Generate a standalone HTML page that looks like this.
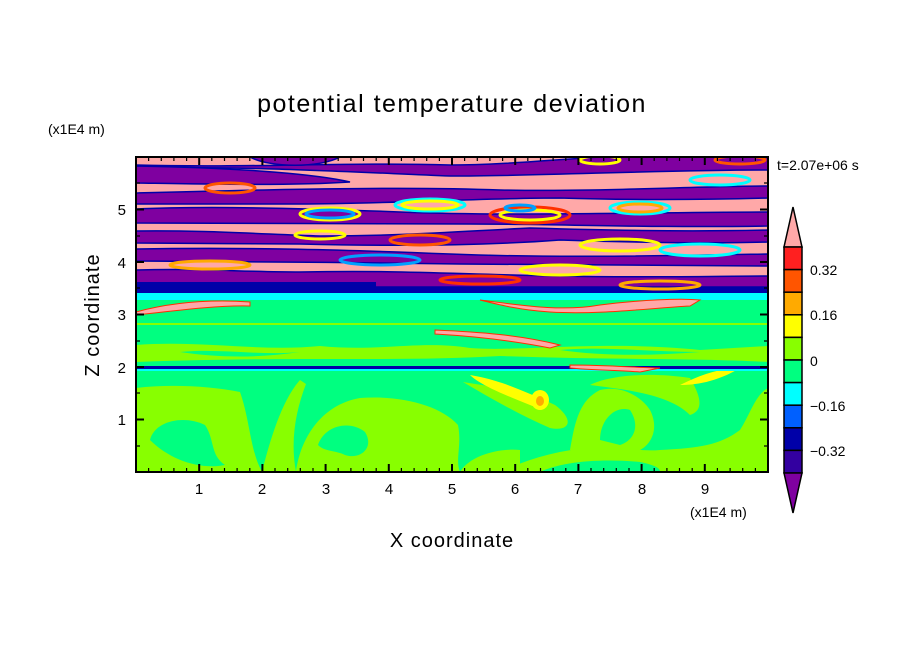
<!DOCTYPE html>
<html><head><style>body{margin:0;background:#fff}svg{display:block}text{font-family:"Liberation Sans",sans-serif;fill:#000}</style></head>
<body>
<svg width="904" height="654" viewBox="0 0 904 654" xmlns="http://www.w3.org/2000/svg">
<defs><clipPath id="c"><rect x="136" y="157" width="632" height="315"/></clipPath></defs>
<g clip-path="url(#c)">
<rect x="136" y="157" width="632" height="315" fill="#00ff80"/>
<!-- lower lime regions -->
<g fill="#88ff00">
<path d="M136,388 C170,384 210,386 240,392 C250,420 250,450 262,472 L136,472Z"/>
<path d="M262,472 C270,440 282,400 300,380 L306,384 C296,410 290,440 296,472Z"/>
<path d="M296,472 C300,440 320,405 360,398 C400,395 440,405 458,425 C462,445 455,460 460,472Z"/>
<path d="M460,472 C470,455 500,448 520,450 L520,472Z"/>
<path d="M500,472 C530,458 560,450 590,448 C620,446 640,452 660,450 C700,448 720,445 740,430 C750,415 755,395 768,388 L768,472Z"/>
<path d="M570,450 C575,420 580,400 600,390 C620,385 640,395 650,410 C660,430 650,445 640,450Z"/>
<path d="M463,382 C500,388 530,392 555,405 C575,420 570,432 550,428 C520,415 490,398 463,382Z"/>
<path d="M590,385 C610,375 650,372 690,378 C700,395 705,410 690,415 C670,395 630,390 590,385Z"/>
</g>
<g fill="#00ff80">
<path d="M150,440 C155,420 185,415 205,425 C215,440 210,455 225,465 C200,470 170,460 150,440Z"/>
<path d="M318,445 C325,425 350,420 365,432 C375,448 360,460 345,455 C335,450 325,452 318,445Z"/>
<path d="M600,440 C600,420 615,405 630,410 C640,425 635,440 620,445Z"/>
<path d="M540,472 C560,462 600,458 640,462 C660,466 660,470 660,472Z"/>
</g>
<path d="M470,375 C500,380 520,390 540,398 C550,405 540,410 530,405 C505,395 480,385 470,375Z" fill="#ffff00"/>
<ellipse cx="540" cy="400" rx="9" ry="10" fill="#ffff00"/>
<ellipse cx="540" cy="401" rx="4" ry="5" fill="#ffaa00"/>
<path d="M680,385 C700,375 720,368 740,368 C720,380 700,385 680,385Z" fill="#ffff00"/>
<!-- middle band speckle -->
<path d="M136,345 C200,340 260,352 320,346 C380,352 420,340 470,348 C520,352 600,340 700,350 L768,346 L768,362 C700,358 600,360 500,356 C400,362 300,356 136,362Z" fill="#88ff00"/>
<path d="M180,352 C220,348 260,356 300,352 C260,358 220,358 180,352Z" fill="#00ff80"/>
<path d="M560,350 C600,346 650,352 700,352 C650,356 600,356 560,350Z" fill="#00ff80"/>
<rect x="136" y="366" width="632" height="3" fill="#0000a8"/>
<rect x="136" y="369" width="632" height="2" fill="#00ffff"/>
<rect x="136" y="323" width="632" height="2" fill="#88ff00"/>
<path d="M435,330 C480,332 520,335 560,345 L550,348 C510,340 470,336 435,334Z" fill="#ffa8a8" stroke="#ff3000"/>
<path d="M570,365 C610,365 640,368 660,368 L640,372 C610,370 590,370 570,368Z" fill="#ffa8a8" stroke="#ff3000"/>
<rect x="136" y="284" width="632" height="12" fill="#0000a8"/>
<rect x="136" y="293" width="632" height="7" fill="#00ffff"/>
<rect x="136" y="300" width="632" height="4" fill="#00ff80"/>
<path d="M136,312 C180,300 220,300 250,302 L250,306 C220,305 180,310 136,315Z" fill="#ffa8a8" stroke="#ff3000"/>
<path d="M480,300 C520,305 560,312 600,305 C640,300 680,298 700,300 L690,306 C650,308 600,315 550,312 C520,310 500,305 480,300Z" fill="#ffa8a8" stroke="#ff3000"/>
<!-- stripes -->
<rect x="136" y="157" width="632" height="128" fill="#ffa8a8"/>
<g fill="#7f00a0" stroke="#0000a8" stroke-width="1.5">
<path d="M136,168 C250,166 350,172 450,176 C550,176 650,170 768,170 L768,157 L600,157 C550,160 500,165 450,165 C350,162 250,168 136,165Z"/>
<path d="M250,157 C270,168 320,168 340,157Z"/>
<path d="M136,166 C250,168 320,175 350,182 C290,186 200,184 136,183Z"/>
<path d="M136,193 C250,190 400,186 500,190 C600,192 700,186 768,186 L768,198 C700,200 620,200 560,198 C480,198 380,204 300,204 C220,204 180,204 136,204Z"/>
<path d="M136,209 C200,206 300,208 400,212 C500,216 600,213 768,212 L768,226 C650,228 560,224 470,224 C380,224 260,224 136,223Z"/>
<path d="M136,231 C200,230 260,234 320,236 C400,236 450,232 530,228 C600,230 680,232 768,230 L768,242 C700,244 620,242 560,240 C480,246 380,246 300,244 C250,244 180,243 136,243Z"/>
<path d="M136,249 C250,247 350,250 450,254 C550,258 650,256 768,254 L768,266 C650,266 540,264 460,264 C350,262 250,262 136,261Z"/>
<path d="M136,270 C200,268 240,272 300,272 C400,270 450,274 560,276 C650,278 720,276 768,276 L768,287 L136,287Z"/>
</g>
<rect x="136" y="282" width="240" height="10" fill="#0000a8"/>
<g fill="none" stroke-width="3">
<ellipse cx="230" cy="188" rx="25" ry="5" stroke="#ff5500"/>
<ellipse cx="330" cy="214" rx="30" ry="6" stroke="#ffff00"/>
<ellipse cx="330" cy="214" rx="24" ry="4" stroke="#00a0ff"/>
<ellipse cx="430" cy="205" rx="35" ry="6" stroke="#00ffff"/>
<ellipse cx="430" cy="205" rx="28" ry="4" stroke="#ffff00"/>
<ellipse cx="530" cy="215" rx="40" ry="8" stroke="#ff3000"/>
<ellipse cx="530" cy="215" rx="30" ry="5" stroke="#ffff00"/>
<ellipse cx="520" cy="208" rx="15" ry="3" stroke="#00a0ff"/>
<ellipse cx="640" cy="208" rx="30" ry="6" stroke="#00ffff"/>
<ellipse cx="640" cy="208" rx="22" ry="4" stroke="#ffaa00"/>
<ellipse cx="720" cy="180" rx="30" ry="5" stroke="#00ffff"/>
<ellipse cx="740" cy="160" rx="25" ry="4" stroke="#ff5500"/>
<ellipse cx="320" cy="235" rx="25" ry="4" stroke="#ffff00"/>
<ellipse cx="420" cy="240" rx="30" ry="5" stroke="#ff5500"/>
<ellipse cx="620" cy="245" rx="40" ry="6" stroke="#ffff00"/>
<ellipse cx="700" cy="250" rx="40" ry="6" stroke="#00ffff"/>
<ellipse cx="210" cy="265" rx="40" ry="4" stroke="#ffaa00"/>
<ellipse cx="380" cy="260" rx="40" ry="5" stroke="#00a0ff"/>
<ellipse cx="560" cy="270" rx="40" ry="5" stroke="#ffff00"/>
<ellipse cx="480" cy="280" rx="40" ry="4" stroke="#ff3000"/>
<ellipse cx="660" cy="285" rx="40" ry="4" stroke="#ffaa00"/>
<ellipse cx="600" cy="160" rx="20" ry="4" stroke="#ffff00"/>
</g>
</g>
<rect x="136" y="157" width="632" height="315" fill="none" stroke="#000" stroke-width="2"/>
<g stroke="#000" stroke-width="1.2">
<path d="M148.6,472v-4M161.3,472v-4M173.9,472v-4M186.6,472v-4M211.8,472v-4M224.5,472v-4M237.1,472v-4M249.8,472v-4M275,472v-4M287.7,472v-4M300.3,472v-4M313,472v-4M338.2,472v-4M350.9,472v-4M363.5,472v-4M376.2,472v-4M401.4,472v-4M414.1,472v-4M426.7,472v-4M439.4,472v-4M464.6,472v-4M477.3,472v-4M489.9,472v-4M502.6,472v-4M527.8,472v-4M540.5,472v-4M553.1,472v-4M565.8,472v-4M591,472v-4M603.7,472v-4M616.3,472v-4M629,472v-4M654.2,472v-4M666.9,472v-4M679.5,472v-4M692.2,472v-4M717.4,472v-4M730.1,472v-4M742.7,472v-4M755.4,472v-4"/>
<path d="M148.6,157v4M161.3,157v4M173.9,157v4M186.6,157v4M211.8,157v4M224.5,157v4M237.1,157v4M249.8,157v4M275,157v4M287.7,157v4M300.3,157v4M313,157v4M338.2,157v4M350.9,157v4M363.5,157v4M376.2,157v4M401.4,157v4M414.1,157v4M426.7,157v4M439.4,157v4M464.6,157v4M477.3,157v4M489.9,157v4M502.6,157v4M527.8,157v4M540.5,157v4M553.1,157v4M565.8,157v4M591,157v4M603.7,157v4M616.3,157v4M629,157v4M654.2,157v4M666.9,157v4M679.5,157v4M692.2,157v4M717.4,157v4M730.1,157v4M742.7,157v4M755.4,157v4"/>
<path stroke-width="2" d="M199.2,472v-8M262.4,472v-8M325.6,472v-8M388.8,472v-8M452,472v-8M515.2,472v-8M578.4,472v-8M641.6,472v-8M704.8,472v-8M199.2,157v8M262.4,157v8M325.6,157v8M388.8,157v8M452,157v8M515.2,157v8M578.4,157v8M641.6,157v8M704.8,157v8"/>
<path stroke-width="2" d="M136,419.5h8M136,367h8M136,314.5h8M136,262h8M136,209.5h8M768,419.5h-8M768,367h-8M768,314.5h-8M768,262h-8M768,209.5h-8"/>
<path d="M136,446h4M136,393h4M136,341h4M136,288h4M136,236h4M136,183h4M768,446h-4M768,393h-4M768,341h-4M768,288h-4M768,236h-4M768,183h-4"/>
</g>
<g font-size="15" text-anchor="middle">
<text x="199" y="494">1</text><text x="262" y="494">2</text><text x="326" y="494">3</text><text x="389" y="494">4</text><text x="452" y="494">5</text><text x="515" y="494">6</text><text x="578" y="494">7</text><text x="642" y="494">8</text><text x="705" y="494">9</text>
</g>
<g font-size="15" text-anchor="end">
<text x="126" y="425">1</text><text x="126" y="373">2</text><text x="126" y="320">3</text><text x="126" y="268">4</text><text x="126" y="215">5</text>
</g>
<text x="452" y="112" font-size="25" text-anchor="middle" letter-spacing="1.5">potential temperature deviation</text>
<text x="48" y="134" font-size="14">(x1E4 m)</text>
<text x="690" y="517" font-size="14">(x1E4 m)</text>
<text x="452" y="547" font-size="20" text-anchor="middle" letter-spacing="1">X coordinate</text>
<text transform="translate(99,315) rotate(-90)" font-size="20" text-anchor="middle" letter-spacing="1">Z coordinate</text>
<text x="777" y="170" font-size="14">t=2.07e+06 s</text>
<g stroke="#000" stroke-width="1.5">
<path d="M793,207 L802,247 L784,247Z" fill="#ffa8a8"/>
<rect x="784" y="247" width="18" height="22.6" fill="#ff2020"/>
<rect x="784" y="269.6" width="18" height="22.6" fill="#ff5500"/>
<rect x="784" y="292.2" width="18" height="22.6" fill="#ffaa00"/>
<rect x="784" y="314.8" width="18" height="22.6" fill="#ffff00"/>
<rect x="784" y="337.4" width="18" height="22.6" fill="#88ff00"/>
<rect x="784" y="360" width="18" height="22.6" fill="#00ff80"/>
<rect x="784" y="382.6" width="18" height="22.6" fill="#00ffff"/>
<rect x="784" y="405.2" width="18" height="22.6" fill="#0060ff"/>
<rect x="784" y="427.8" width="18" height="22.6" fill="#0000a8"/>
<rect x="784" y="450.4" width="18" height="22.6" fill="#3300a0"/>
<path d="M784,473 L802,473 L793,513Z" fill="#7f00a0"/>
</g>
<g font-size="14">
<text x="810" y="275">0.32</text><text x="810" y="320">0.16</text><text x="810" y="366">0</text><text x="810" y="411">−0.16</text><text x="810" y="456">−0.32</text>
</g>
</svg>
</body></html>
